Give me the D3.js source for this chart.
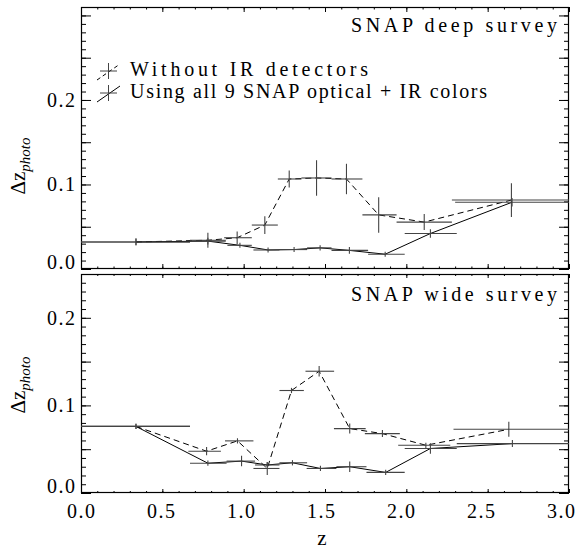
<!DOCTYPE html>
<html>
<head>
<meta charset="utf-8">
<script src="https://cdn.jsdelivr.net/npm/d3@7"></script>
<style>
html,body{margin:0;padding:0;background:#fff;}
svg{display:block;}
text{font-family:"Liberation Serif","Times New Roman",serif;fill:#000;font-weight:normal;}
</style>
</head>
<body>
<svg id="chart" width="587" height="552"></svg>
<script>
// ---------- data ----------
const xTickLabels = ["0.0","0.5","1.0","1.5","2.0","2.5","3.0"];
const xTickValues = [0,0.5,1.0,1.5,2.0,2.5,3.0];
const yTickLabels = ["0.0","0.1","0.2"];
const yTickValues = [0,0.1,0.2];
const legendLabels = ["Without IR detectors","Using all 9 SNAP optical + IR colors"];
const panelTitles = ["SNAP deep survey","SNAP wide survey"];

// deep survey, without IR (dashed)
const deepNoIR_z   = [0.338,0.78,0.96,1.13,1.28,1.448,1.632,1.83,2.11,2.646];
const deepNoIR_dz  = [0.032,0.034,0.037,0.052,0.1065,0.1077,0.1065,0.064,0.0555,0.0816];
const deepNoIR_lo  = [0,0.67,0.88,1.05,1.21,1.355,1.54,1.73,1.94,2.28];
const deepNoIR_hi  = [0.67,0.89,1.05,1.21,1.355,1.54,1.73,1.94,2.28,3.0];
const deepNoIR_err = [0.004,0.009,0.0075,0.0105,0.01,0.021,0.018,0.021,0.0095,0.02];
// deep survey, all colors (solid)
const deepAll_z   = [0.338,0.78,0.977,1.15,1.31,1.47,1.65,1.87,2.148,2.65];
const deepAll_dz  = [0.032,0.033,0.028,0.0225,0.023,0.025,0.022,0.0175,0.042,0.079];
const deepAll_lo  = [0,0.67,0.9,1.06,1.22,1.39,1.54,1.765,1.99,2.30];
const deepAll_hi  = [0.67,0.89,1.05,1.22,1.39,1.54,1.765,1.99,2.31,3.0];
const deepAll_err = [0.004,0.004,0.002,0.002,0.002,0.002,0.004,0.002,0.005,0.005];
// wide survey, without IR (dashed)
const wideNoIR_z   = [0.338,0.772,0.962,1.145,1.294,1.464,1.652,1.853,2.12,2.63];
const wideNoIR_dz  = [0.076,0.0477,0.0595,0.028,0.117,0.139,0.0735,0.0678,0.0545,0.0727];
const wideNoIR_lo  = [0,0.66,0.885,1.06,1.22,1.38,1.555,1.745,1.95,2.29];
const wideNoIR_hi  = [0.67,0.86,1.06,1.22,1.37,1.556,1.75,1.96,2.27,3.0];
const wideNoIR_err = [0.003,0.0047,0.003,0.0075,0.003,0.006,0.0057,0.004,0.003,0.0085];
// wide survey, all colors (solid)
const wideAll_z   = [0.338,0.78,0.987,1.145,1.30,1.472,1.652,1.873,2.148,2.652];
const wideAll_dz  = [0.076,0.034,0.0364,0.032,0.0345,0.028,0.030,0.0235,0.0508,0.0564];
const wideAll_lo  = [0,0.67,0.895,1.07,1.22,1.387,1.57,1.755,1.99,2.31];
const wideAll_hi  = [0.67,0.895,1.07,1.22,1.39,1.57,1.755,1.99,2.31,3.0];
const wideAll_err = [0.003,0.003,0.006,0.003,0.003,0.003,0.006,0.003,0.006,0.004];

function makeSeries(z,dz,lo,hi,err){ return z.map((v,i)=>({z:v,dz:dz[i],lo:lo[i],hi:hi[i],err:err[i]})); }

const panels = [
  {top:7, bottom:269, ymax:0.31, title:panelTitles[0], titleY:32, titleCy:166, legend:true,
   series:[{dash:"6,4", data:makeSeries(deepNoIR_z,deepNoIR_dz,deepNoIR_lo,deepNoIR_hi,deepNoIR_err)},
           {dash:null, data:makeSeries(deepAll_z,deepAll_dz,deepAll_lo,deepAll_hi,deepAll_err)}]},
  {top:274, bottom:493, ymax:0.25, title:panelTitles[1], titleY:301, titleCy:385, legend:false,
   series:[{dash:"6,4", data:makeSeries(wideNoIR_z,wideNoIR_dz,wideNoIR_lo,wideNoIR_hi,wideNoIR_err)},
           {dash:null, data:makeSeries(wideAll_z,wideAll_dz,wideAll_lo,wideAll_hi,wideAll_err)}]}
];

// ---------- drawing ----------
const svg = d3.select("#chart");
const left = 81, right = 569;
const x = d3.scaleLinear().domain([0,3]).range([left,right]);
// tick labels sit on a slightly compressed scale in the reference
const xLab = d3.scaleLinear().domain([0,3]).range([left,561]);
const xMinor = d3.range(0,3.0001,0.1).map(v=>+v.toFixed(2));
const LA = "spacing";

panels.forEach((p,pi)=>{
  const y = d3.scaleLinear().domain([0,p.ymax]).range([p.bottom,p.top]);
  const g = svg.append("g");
  const clipId = "clip"+pi;
  svg.append("clipPath").attr("id",clipId).append("rect")
     .attr("x",left).attr("y",p.top).attr("width",right-left).attr("height",p.bottom-p.top);

  const h = p.bottom - p.top;
  const w = right - left;
  const yMinor = d3.range(0,p.ymax+0.0001,0.01).map(v=>+v.toFixed(3));
  const yMajor = d3.range(0,p.ymax+0.0001,0.05).map(v=>+v.toFixed(3));
  const xMajLen = Math.round(0.02*h), yMajLen = Math.round(0.02*w);

  const axes = [
    {ax:d3.axisBottom(x).tickValues(xMinor).tickSize(-xMajLen/2), tr:`translate(0,${p.bottom})`},
    {ax:d3.axisBottom(x).tickValues(xTickValues).tickSize(-xMajLen), tr:`translate(0,${p.bottom})`},
    {ax:d3.axisTop(x).tickValues(xMinor).tickSize(-xMajLen/2), tr:`translate(0,${p.top})`},
    {ax:d3.axisTop(x).tickValues(xTickValues).tickSize(-xMajLen), tr:`translate(0,${p.top})`},
    {ax:d3.axisLeft(y).tickValues(yMinor).tickSize(-yMajLen/2), tr:`translate(${left},0)`},
    {ax:d3.axisLeft(y).tickValues(yMajor).tickSize(-yMajLen), tr:`translate(${left},0)`},
    {ax:d3.axisRight(y).tickValues(yMinor).tickSize(-yMajLen/2), tr:`translate(${right},0)`},
    {ax:d3.axisRight(y).tickValues(yMajor).tickSize(-yMajLen), tr:`translate(${right},0)`}
  ];
  axes.forEach(a=>{
    const ag = g.append("g").attr("transform",a.tr).call(a.ax.tickFormat("").tickSizeOuter(0));
    ag.select(".domain").remove();
    ag.selectAll("line").attr("stroke","#000").attr("stroke-width",1);
  });
  g.append("rect").attr("x",left+0.5).attr("y",p.top+0.5).attr("width",w-1).attr("height",h-1)
   .attr("fill","none").attr("stroke","#000").attr("stroke-width",1.2);

  // y tick labels
  g.selectAll(".ylab").data(yTickValues).join("text")
    .attr("x",75).attr("y",d=>y(d) + (d===0?-7:0)).attr("dy","0.35em")
    .attr("text-anchor","end").attr("font-size",20)
    .attr("textLength",28).attr("lengthAdjust",LA)
    .text((d,i)=>yTickLabels[i]);

  // y axis title
  const t = g.append("text").attr("transform",`translate(25,${p.titleCy}) rotate(-90)`)
    .attr("text-anchor","middle").attr("font-size",21);
  t.append("tspan").text("Δz");
  t.append("tspan").attr("font-size",15).attr("font-style","italic").attr("dy",5).text("photo");

  // panel title
  g.append("text").attr("x",557).attr("y",p.titleY).attr("text-anchor","end")
   .attr("font-size",20).attr("textLength",206).attr("lengthAdjust",LA).text(p.title);

  // data
  const dg = g.append("g").attr("clip-path",`url(#${clipId})`);
  p.series.forEach(s=>{
    const line = d3.line().x(d=>x(d.z)).y(d=>y(d.dz));
    dg.append("path").datum(s.data).attr("d",line).attr("fill","none")
      .attr("stroke","#000").attr("stroke-width",1).attr("stroke-dasharray",s.dash);
    dg.selectAll(null).data(s.data).join("line")
      .attr("x1",d=>x(d.lo)).attr("x2",d=>x(d.hi)).attr("y1",d=>y(d.dz)).attr("y2",d=>y(d.dz))
      .attr("stroke","#444").attr("stroke-width",1.1);
    dg.selectAll(null).data(s.data).join("line")
      .attr("x1",d=>x(d.z)).attr("x2",d=>x(d.z))
      .attr("y1",d=>y(d.dz - Math.max(d.err,0.003))).attr("y2",d=>y(d.dz + Math.max(d.err,0.003)))
      .attr("stroke","#444").attr("stroke-width",1.1);
  });

  // legend
  if(p.legend){
    const rows = [{cy:70, dash:"4,3"},{cy:92, dash:null}];
    rows.forEach((r,i)=>{
      g.append("line").attr("x1",97).attr("y1",r.cy+10).attr("x2",120).attr("y2",r.cy-6)
       .attr("stroke","#000").attr("stroke-width",1).attr("stroke-dasharray",r.dash);
      g.append("line").attr("x1",100).attr("x2",117).attr("y1",r.cy+1).attr("y2",r.cy+1).attr("stroke","#444");
      g.append("line").attr("x1",108.5).attr("x2",108.5).attr("y1",r.cy-7).attr("y2",r.cy+9).attr("stroke","#444");
      g.append("text").attr("x",130).attr("y",r.cy+6).attr("font-size",20)
       .attr("textLength",i===0?238:357).attr("lengthAdjust",LA).text(legendLabels[i]);
    });
  }

  // x tick labels on bottom panel
  if(pi===panels.length-1){
    g.selectAll(".xlab").data(xTickValues).join("text")
     .attr("x",d=>xLab(d)).attr("y",518).attr("text-anchor","middle").attr("font-size",20)
     .attr("textLength",28).attr("lengthAdjust",LA)
     .text((d,i)=>xTickLabels[i]);
    g.append("text").attr("x",322).attr("y",545).attr("text-anchor","middle").attr("font-size",21).text("z");
  }
});
</script>
</body>
</html>
